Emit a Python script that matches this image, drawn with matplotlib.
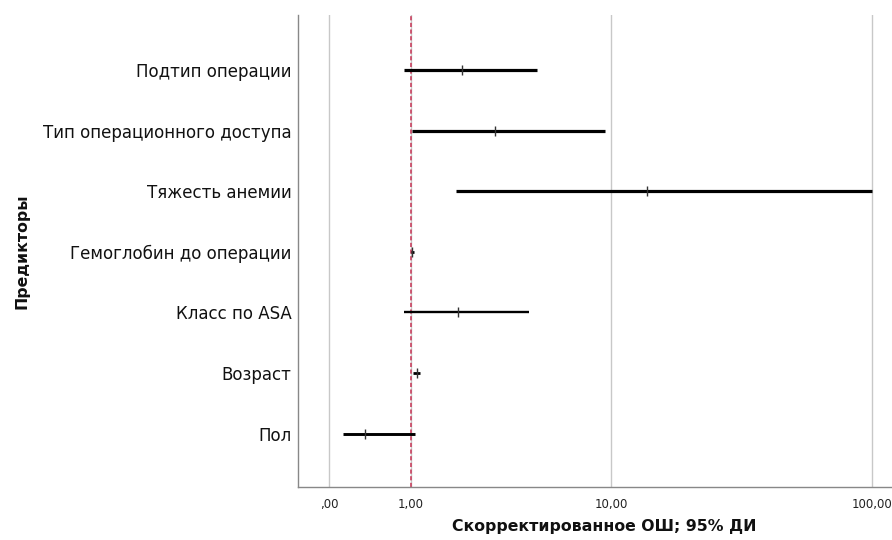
import numpy as np
import matplotlib
matplotlib.use("Agg")
import matplotlib.pyplot as plt
from matplotlib.ticker import FixedLocator, FuncFormatter

# ---- data ----
predictors = ["Подтип операции", "Тип операционного доступа", "Тяжесть анемии",
              "Гемоглобин до операции", "Класс по ASA", "Возраст", "Пол"]
odds_ratio = [2.08, 3.09, 13.85, 1.02, 1.98, 1.10, 0.355]
ci_low = [0.891, 1.02, 1.94, 1.00, 0.891, 1.03, 0.12]
ci_high = [4.83, 9.42, 100.0, 1.05, 4.46, 1.16, 1.07]
x_ticks = [0, 1, 10, 100]
x_label = "Скорректированное ОШ; 95% ДИ"
y_label = "Предикторы"

# styles
line_widths = [2.3, 2.3, 2.3, 2.0, 1.7, 2.0, 2.1]

plt.rcParams['font.family'] = ['DejaVu Sans']


def fwd(x):
    x = np.asarray(x, dtype=float)
    return np.sign(x) * np.log10(1 + np.abs(x))


def inv(y):
    y = np.asarray(y, dtype=float)
    return np.sign(y) * (10 ** np.abs(y) - 1)


def fmt(v, p):
    s = f"{v:.2f}".replace('.', ',')
    return s.lstrip('0') if v < 1 else s


W, H = 892, 540
fig = plt.figure(figsize=(W / 100, H / 100), dpi=100)
left, right, top, bottom = 298.3, 892, 15, 487.3
ax = fig.add_axes([left / W, 1 - bottom / H, (right - left) / W, (bottom - top) / H])
ax.set_xscale('function', functions=(fwd, inv))
ax.set_xlim(-0.3014, 118.5)

n = len(predictors)
ypos = np.arange(n)[::-1]
ax.set_ylim(-0.887, 6.908)

# grid lines
for t in x_ticks:
    ax.axvline(t, color='#c8c8c8', lw=1.0, zorder=0)
# reference line
ax.axvline(1, color='#c8405f', lw=1.2, ls=(0, (2.5, 1.5)), zorder=1)

for i in range(n):
    ax.hlines(ypos[i], ci_low[i], ci_high[i], color='black', lw=line_widths[i], zorder=3)
    ax.plot([odds_ratio[i]], [ypos[i]], marker='|', color='#333333', ms=7, mew=1.0,
            zorder=4, ls='none')

ax.xaxis.set_major_locator(FixedLocator(x_ticks))
ax.xaxis.set_major_formatter(FuncFormatter(fmt))
ax.xaxis.set_minor_locator(FixedLocator([]))
ax.set_yticks(ypos)
ax.set_yticklabels(predictors, fontsize=12, color='#111111')
ax.tick_params(axis='both', length=0)
ax.tick_params(axis='y', pad=5)
ax.tick_params(axis='x', pad=8, labelsize=8.5, labelcolor='#222222')

for s in ['top', 'right']:
    ax.spines[s].set_visible(False)
for s in ['left', 'bottom']:
    ax.spines[s].set_color('#888888')
    ax.spines[s].set_linewidth(1.0)

fig.text(604 / W, 1 - 527 / H, x_label, ha='center', va='center', fontsize=11.3,
         fontweight='bold', color='#111111')
fig.text(22 / W, 1 - 251 / H, y_label, ha='center', va='center', rotation=90,
         fontsize=11.3, fontweight='bold', color='#111111')

fig.savefig("out.png", dpi=100)
